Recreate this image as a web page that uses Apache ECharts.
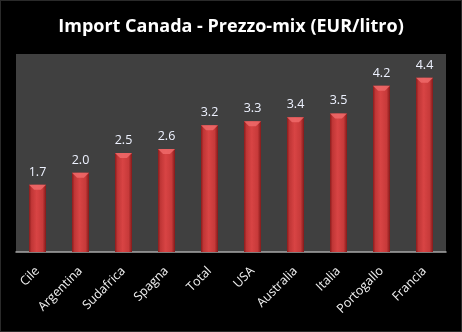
<!DOCTYPE html>
<html>
<head>
<meta charset="utf-8">
<script src="https://cdn.jsdelivr.net/npm/echarts@6/dist/echarts.min.js"></script>
<style>
  html, body { margin: 0; padding: 0; background: #000; }
  #chart { width: 460px; height: 330px; border: 1px solid #2a2a2a; }
</style>
</head>
<body>
<div id="chart"></div>
<script>
// Average import price mix into Canada by origin (EUR per litre)
const categories = ['Cile', 'Argentina', 'Sudafrica', 'Spagna', 'Total', 'USA', 'Australia', 'Italia', 'Portogallo', 'Francia'];
const prices = [1.7, 2.0, 2.5, 2.6, 3.2, 3.3, 3.4, 3.5, 4.2, 4.4];
const titleText = 'Import Canada - Prezzo-mix (EUR/litro)';

const chart = echarts.init(document.getElementById('chart'));

// Cylinder-like shading across each bar
const barFill = new echarts.graphic.LinearGradient(0, 0, 1, 0, [
  { offset: 0, color: '#8a1c1c' },
  { offset: 0.15, color: '#c03636' },
  { offset: 0.45, color: '#d84444' },
  { offset: 0.8, color: '#c73a3a' },
  { offset: 1, color: '#841a1a' }
]);

chart.setOption({
  backgroundColor: '#000',
  title: {
    text: titleText,
    left: 'center',
    top: 12,
    textStyle: {
      color: '#fff',
      fontFamily: 'Open Sans',
      fontWeight: 'bold',
      fontSize: 18
    }
  },
  grid: {
    left: 15,
    right: 15,
    top: 53,
    bottom: 79,
    show: true,
    backgroundColor: '#404040',
    borderWidth: 0
  },
  xAxis: {
    type: 'category',
    data: categories,
    axisLine: { lineStyle: { color: '#a6a6a6', width: 1.5 } },
    axisTick: { show: false },
    axisLabel: {
      color: '#f0f0f0',
      fontFamily: 'Open Sans',
      fontSize: 12.5,
      rotate: 45,
      margin: 17,
      interval: 0
    }
  },
  yAxis: {
    type: 'value',
    min: 0,
    max: 5,
    show: false,
    splitLine: { show: false }
  },
  series: [
    {
      type: 'bar',
      data: prices,
      barWidth: 17,
      itemStyle: { color: barFill },
      label: {
        show: true,
        position: 'top',
        distance: 6,
        color: '#eef2ff',
        fontFamily: 'Open Sans',
        fontSize: 12.5,
        formatter: p => p.value.toFixed(1)
      }
    },
    {
      // lighter cap at the top of every cylinder
      type: 'pictorialBar',
      data: prices,
      symbol: 'path://M0,0 L10,0 L7,3 L3,3 Z',
      symbolSize: [17, 5],
      symbolPosition: 'end',
      symbolOffset: [0, 0],
      symbolClip: false,
      itemStyle: { color: '#ee6a6a', opacity: 0.85 },
      z: 3,
      silent: true
    }
  ]
});
</script>
</body>
</html>
